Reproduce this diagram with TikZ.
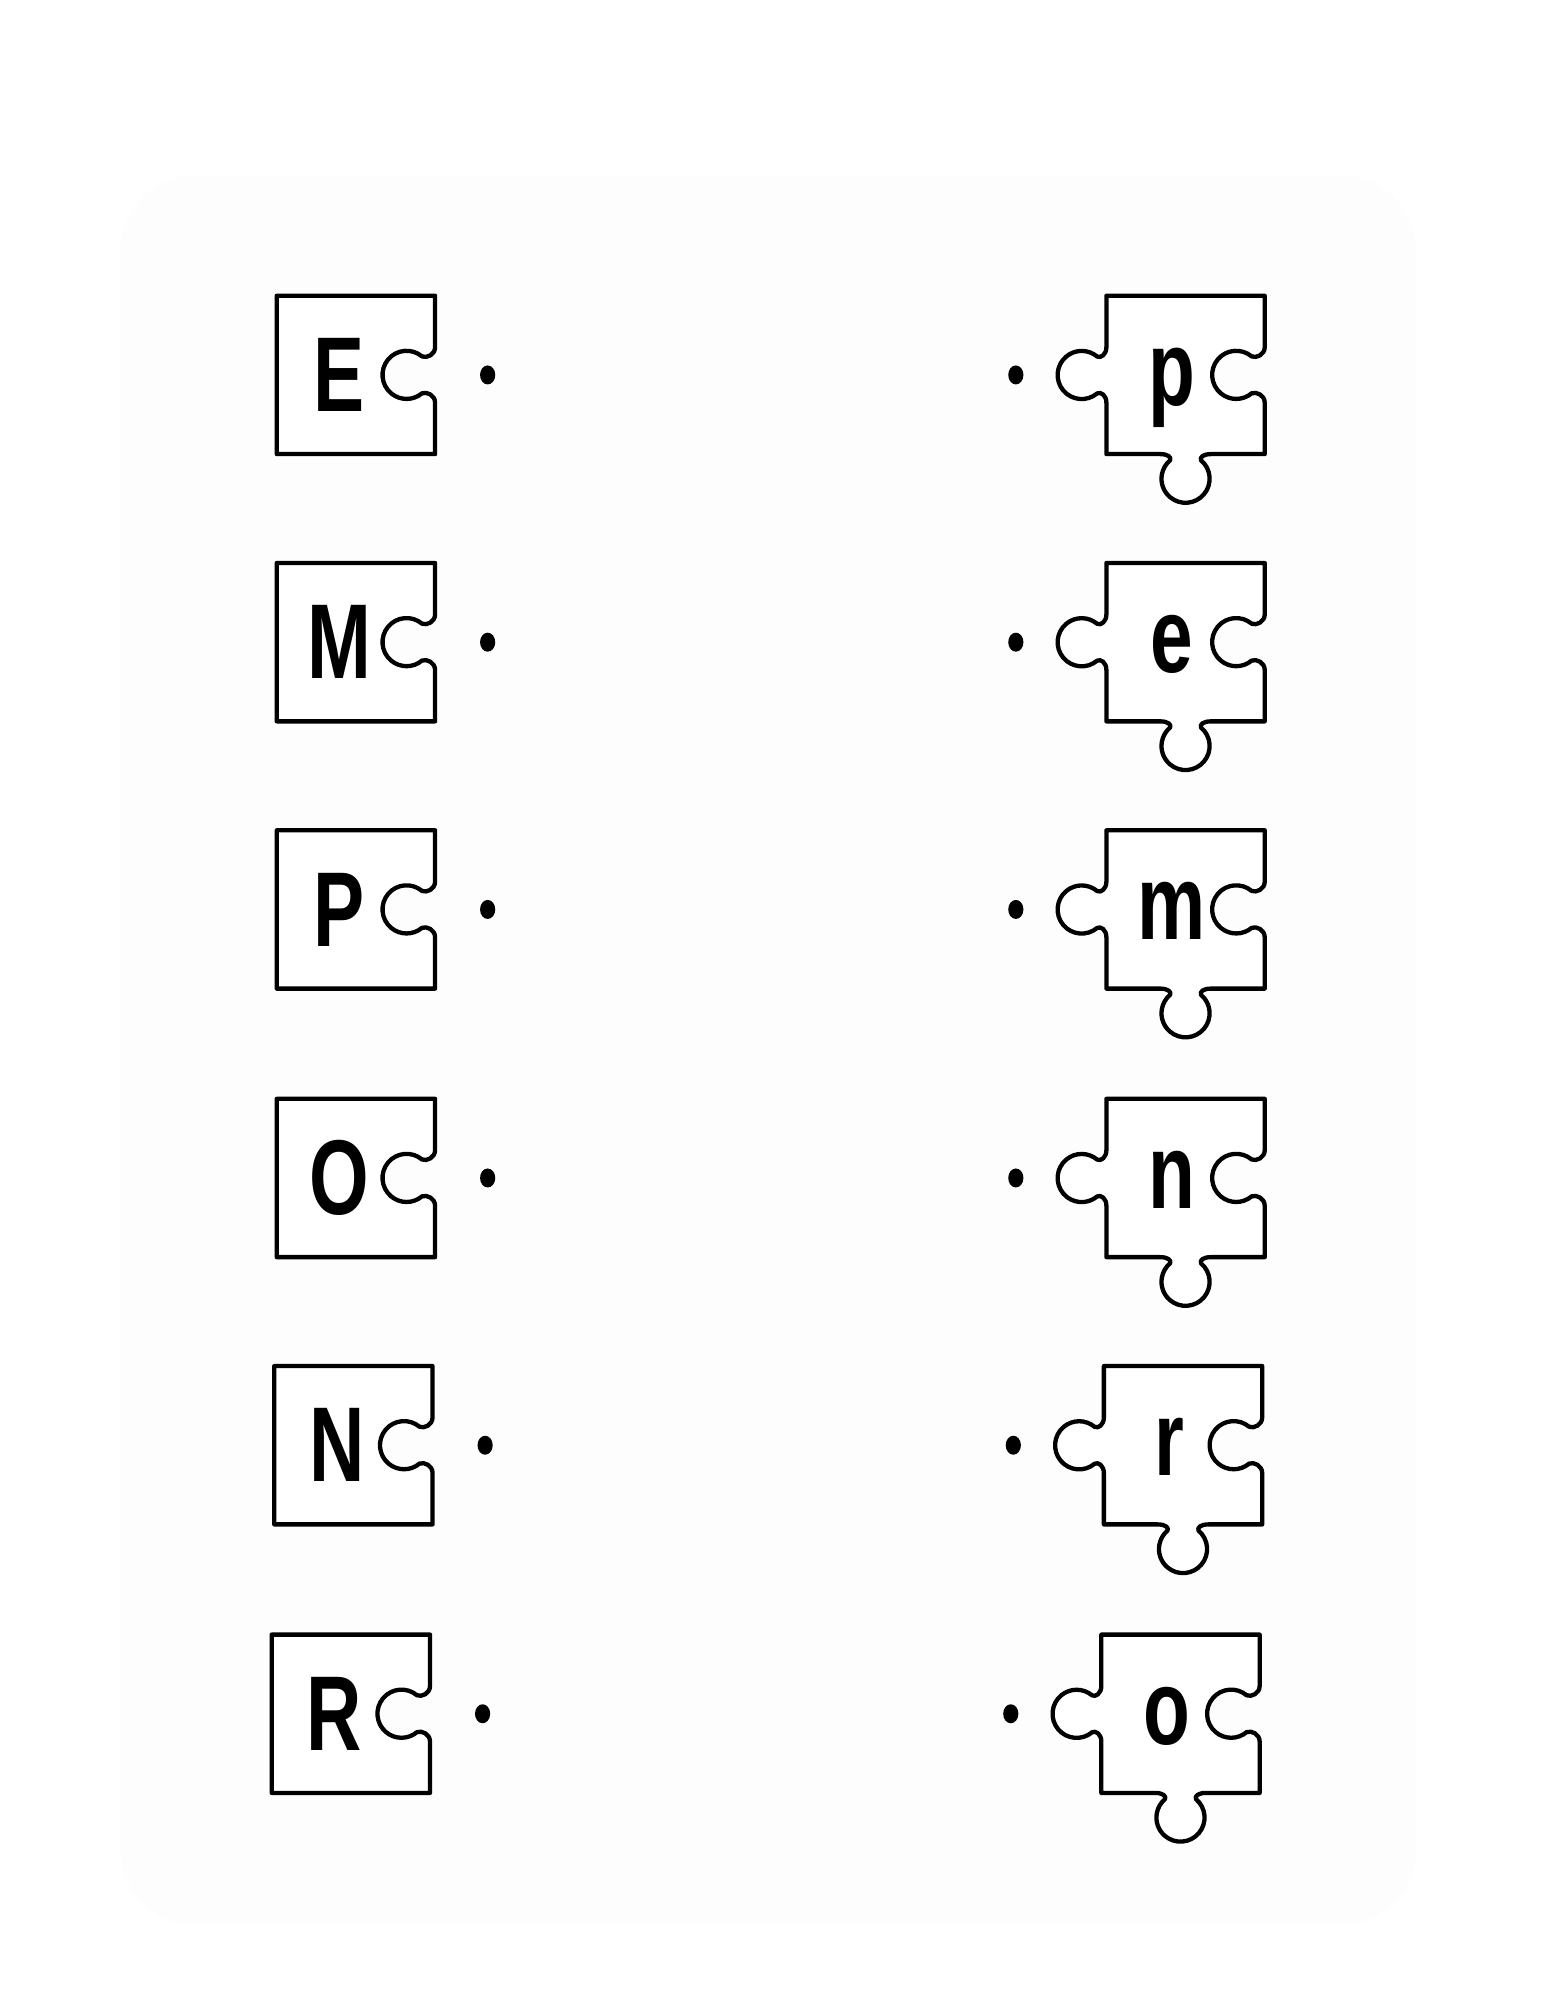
\documentclass[tikz,border=0pt]{standalone}
\usepackage{fontspec}
\setmainfont{Liberation Sans}
\begin{document}
\begin{tikzpicture}[x=1pt,y=1pt,
  piece/.style={draw=black,line width=3.4pt,line join=round,fill=white},
  letter/.style={font=\fontsize{84}{90}\selectfont\bfseries,xscale=0.72,inner sep=0pt},
  dotm/.style={fill=black,draw=none}]
\useasboundingbox (0,0) rectangle (1220,-1579);
\fill[black!0.8,rounded corners=60pt] (95,-138) rectangle (1118,-1520);
\foreach \cy/\dx/\L/\R/\i in {296/0/E/p/1,507/0/M/e/2,718/0/P/m/3,930/0/O/n/4,1141/-2/N/r/5,1353/-4/R/o/6}{
  \begin{scope}[shift={(281+\dx,-\cy)}]
    \draw[piece] (-62.5,62.5) -- (62.5,62.5) -- (62.5,22)
      .. controls (62.5,16) and (56,13) .. (52.2,14.6)
      arc[start angle=50,end angle=310,radius=19]
      .. controls (56,-13) and (62.5,-16) .. (62.5,-22) -- (62.5,-62.5) -- (-62.5,-62.5) -- cycle;
    \node[letter] (L\i) at (-13,0) {\L};
    \fill[dotm] (104,0) ellipse (6 and 7.5);
  \end{scope}
  \begin{scope}[shift={(936+\dx,-\cy)}]
    \draw[piece] (-62.5,62.5) -- (62.5,62.5) -- (62.5,22)
      .. controls (62.5,16) and (56,13) .. (52.2,14.6)
      arc[start angle=50,end angle=310,radius=19]
      .. controls (56,-13) and (62.5,-16) .. (62.5,-22) -- (62.5,-62.5) -- (20,-62.5)
      .. controls (14,-62.5) and (11,-65) .. (12.2,-67.4)
      arc[start angle=50,end angle=-230,radius=19]
      .. controls (-11,-65) and (-14,-62.5) .. (-20,-62.5) -- (-62.5,-62.5) -- (-62.5,-22)
      .. controls (-62.5,-16) and (-67,-13) .. (-69.8,-14.6)
      arc[start angle=-50,end angle=-310,radius=19]
      .. controls (-67,13) and (-62.5,16) .. (-62.5,22) -- cycle;
    \node[letter,anchor=base] (R\i) at (-11,-24) {\R};
    \fill[dotm] (-134,0) ellipse (6 and 7.5);
  \end{scope}
}
\end{tikzpicture}
\end{document}
